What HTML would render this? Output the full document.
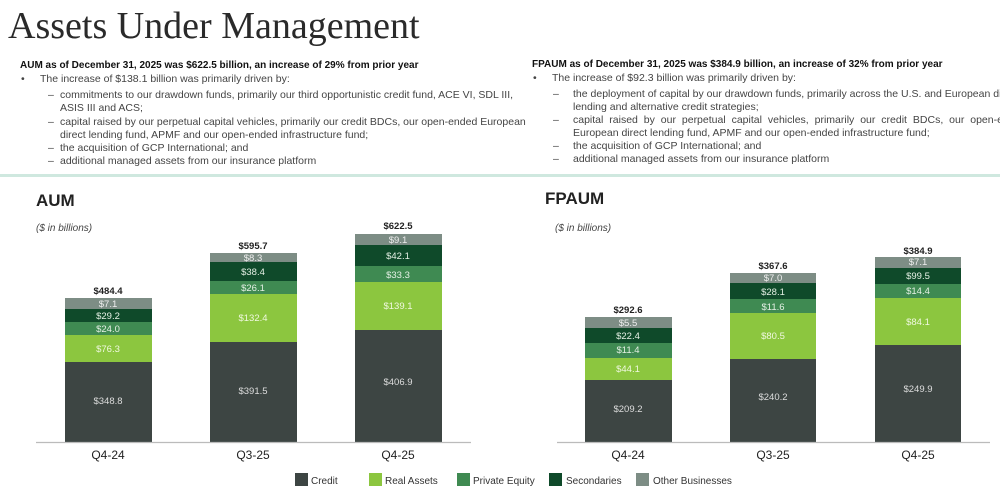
<!DOCTYPE html>
<html><head><meta charset="utf-8"><style>
body{margin:0;width:1000px;height:502px;background:#fff;position:relative;overflow:hidden;font-family:"Liberation Sans",sans-serif;color:#333}
.t{position:absolute;white-space:nowrap;font-size:10.5px;line-height:13px;color:#444}
.b{font-weight:bold;color:#111;font-size:10px}
</style></head><body>
<div style="position:absolute;left:8px;top:4px;font-family:'Liberation Serif',serif;font-size:38px;color:#2a2a2a;white-space:nowrap">Assets Under Management</div>

<div class="t b" style="left:20px;top:59px">AUM as of December 31, 2025 was $622.5 billion, an increase of 29% from prior year</div>
<div class="t" style="left:21px;top:73px">•</div>
<div class="t" style="left:40px;top:73px">The increase of $138.1 billion was primarily driven by:</div>
<div class="t" style="left:48px;top:89px">–</div>
<div class="t" style="left:60px;top:89px">commitments to our drawdown funds, primarily our third opportunistic credit fund, ACE VI, SDL III,</div>
<div class="t" style="left:60px;top:102px">ASIS III and ACS;</div>
<div class="t" style="left:48px;top:116px">–</div>
<div class="t" style="left:60px;top:116px">capital raised by our perpetual capital vehicles, primarily our credit BDCs, our open-ended European</div>
<div class="t" style="left:60px;top:129px">direct lending fund, APMF and our open-ended infrastructure fund;</div>
<div class="t" style="left:48px;top:142px">–</div>
<div class="t" style="left:60px;top:142px">the acquisition of GCP International; and</div>
<div class="t" style="left:48px;top:155px">–</div>
<div class="t" style="left:60px;top:155px">additional managed assets from our insurance platform</div>

<div class="t b" style="left:532px;top:58px">FPAUM as of December 31, 2025 was $384.9 billion, an increase of 32% from prior year</div>
<div class="t" style="left:533px;top:72px">•</div>
<div class="t" style="left:552px;top:72px">The increase of $92.3 billion was primarily driven by:</div>
<div class="t" style="left:553px;top:88px">–</div>
<div class="t" style="left:573px;top:88px">the deployment of capital by our drawdown funds, primarily across the U.S. and European direct</div>
<div class="t" style="left:573px;top:101px">lending and alternative credit strategies;</div>
<div class="t" style="left:553px;top:114px">–</div>
<div class="t" style="left:573px;top:114px;word-spacing:3px">capital raised by our perpetual capital vehicles, primarily our credit BDCs, our open-ended</div>
<div class="t" style="left:573px;top:127px">European direct lending fund, APMF and our open-ended infrastructure fund;</div>
<div class="t" style="left:553px;top:140px">–</div>
<div class="t" style="left:573px;top:140px">the acquisition of GCP International; and</div>
<div class="t" style="left:553px;top:153px">–</div>
<div class="t" style="left:573px;top:153px">additional managed assets from our insurance platform</div>

<div style="position:absolute;left:0;top:174px;width:1000px;height:3px;background:#cfe8df"></div>

<svg width="1000" height="502" style="position:absolute;left:0;top:0" font-family="Liberation Sans, sans-serif">
<text x="36" y="206" font-size="17" font-weight="bold" fill="#222">AUM</text>
<text x="36" y="231" font-size="10" font-style="italic" fill="#444">($ in billions)</text>
<text x="545" y="204" font-size="17" font-weight="bold" fill="#222">FPAUM</text>
<text x="555" y="231" font-size="10" font-style="italic" fill="#444">($ in billions)</text>
<g font-size="9.5" text-anchor="middle">
<rect x="65" y="362" width="87" height="80" fill="#3d4543"/><rect x="65" y="335" width="87" height="27" fill="#8cc63f"/><rect x="65" y="322" width="87" height="13" fill="#3f8a52"/><rect x="65" y="309" width="87" height="13" fill="#0f4a2a"/><rect x="65" y="298" width="87" height="11" fill="#7d8d85"/>
<text x="108" y="404" fill="#ddd">$348.8</text><text x="108" y="352" fill="#f0f8e0">$76.3</text><text x="108" y="332" fill="#e5f0e5">$24.0</text><text x="108" y="319" fill="#e5f0e5">$29.2</text><text x="108" y="307" fill="#eee">$7.1</text>
<text x="108" y="294" font-weight="bold" fill="#222">$484.4</text>
<rect x="210" y="342" width="87" height="100" fill="#3d4543"/><rect x="210" y="294" width="87" height="48" fill="#8cc63f"/><rect x="210" y="281" width="87" height="13" fill="#3f8a52"/><rect x="210" y="262" width="87" height="19" fill="#0f4a2a"/><rect x="210" y="253" width="87" height="9" fill="#7d8d85"/>
<text x="253" y="394" fill="#ddd">$391.5</text><text x="253" y="321" fill="#f0f8e0">$132.4</text><text x="253" y="291" fill="#e5f0e5">$26.1</text><text x="253" y="275" fill="#e5f0e5">$38.4</text><text x="253" y="261" fill="#eee">$8.3</text>
<text x="253" y="249" font-weight="bold" fill="#222">$595.7</text>
<rect x="355" y="330" width="87" height="112" fill="#3d4543"/><rect x="355" y="282" width="87" height="48" fill="#8cc63f"/><rect x="355" y="266" width="87" height="16" fill="#3f8a52"/><rect x="355" y="245" width="87" height="21" fill="#0f4a2a"/><rect x="355" y="234" width="87" height="11" fill="#7d8d85"/>
<text x="398" y="385" fill="#ddd">$406.9</text><text x="398" y="309" fill="#f0f8e0">$139.1</text><text x="398" y="278" fill="#e5f0e5">$33.3</text><text x="398" y="259" fill="#e5f0e5">$42.1</text><text x="398" y="243" fill="#eee">$9.1</text>
<text x="398" y="229" font-weight="bold" fill="#222">$622.5</text>
<line x1="36" y1="442.5" x2="471" y2="442.5" stroke="#bbb" stroke-width="1.2"/>
<rect x="585" y="380" width="87" height="62" fill="#3d4543"/><rect x="585" y="358" width="87" height="22" fill="#8cc63f"/><rect x="585" y="343" width="87" height="15" fill="#3f8a52"/><rect x="585" y="328" width="87" height="15" fill="#0f4a2a"/><rect x="585" y="317" width="87" height="11" fill="#7d8d85"/>
<text x="628" y="412" fill="#ddd">$209.2</text><text x="628" y="372" fill="#f0f8e0">$44.1</text><text x="628" y="353" fill="#e5f0e5">$11.4</text><text x="628" y="339" fill="#e5f0e5">$22.4</text><text x="628" y="326" fill="#eee">$5.5</text>
<text x="628" y="313" font-weight="bold" fill="#222">$292.6</text>
<rect x="730" y="359" width="86" height="83" fill="#3d4543"/><rect x="730" y="313" width="86" height="46" fill="#8cc63f"/><rect x="730" y="299" width="86" height="14" fill="#3f8a52"/><rect x="730" y="283" width="86" height="16" fill="#0f4a2a"/><rect x="730" y="273" width="86" height="10" fill="#7d8d85"/>
<text x="773" y="400" fill="#ddd">$240.2</text><text x="773" y="339" fill="#f0f8e0">$80.5</text><text x="773" y="310" fill="#e5f0e5">$11.6</text><text x="773" y="295" fill="#e5f0e5">$28.1</text><text x="773" y="281" fill="#eee">$7.0</text>
<text x="773" y="269" font-weight="bold" fill="#222">$367.6</text>
<rect x="875" y="345" width="86" height="97" fill="#3d4543"/><rect x="875" y="298" width="86" height="47" fill="#8cc63f"/><rect x="875" y="284" width="86" height="14" fill="#3f8a52"/><rect x="875" y="268" width="86" height="16" fill="#0f4a2a"/><rect x="875" y="257" width="86" height="11" fill="#7d8d85"/>
<text x="918" y="392" fill="#ddd">$249.9</text><text x="918" y="325" fill="#f0f8e0">$84.1</text><text x="918" y="294" fill="#e5f0e5">$14.4</text><text x="918" y="279" fill="#e5f0e5">$99.5</text><text x="918" y="265" fill="#eee">$7.1</text>
<text x="918" y="254" font-weight="bold" fill="#222">$384.9</text>
<line x1="557" y1="442.5" x2="990" y2="442.5" stroke="#bbb" stroke-width="1.2"/>
</g>
<g font-size="12" text-anchor="middle" fill="#222">
<text x="108" y="459">Q4-24</text><text x="253" y="459">Q3-25</text><text x="398" y="459">Q4-25</text>
<text x="628" y="459">Q4-24</text><text x="773" y="459">Q3-25</text><text x="918" y="459">Q4-25</text>
</g>
<g font-size="10" fill="#333">
<rect x="295" y="473" width="13" height="13" fill="#3d4543"/><text x="311" y="484">Credit</text>
<rect x="369" y="473" width="13" height="13" fill="#8cc63f"/><text x="385" y="484">Real Assets</text>
<rect x="457" y="473" width="13" height="13" fill="#3f8a52"/><text x="473" y="484">Private Equity</text>
<rect x="549" y="473" width="13" height="13" fill="#0f4a2a"/><text x="566" y="484">Secondaries</text>
<rect x="636" y="473" width="13" height="13" fill="#7d8d85"/><text x="653" y="484">Other Businesses</text>
</g>
</svg>
</body></html>
